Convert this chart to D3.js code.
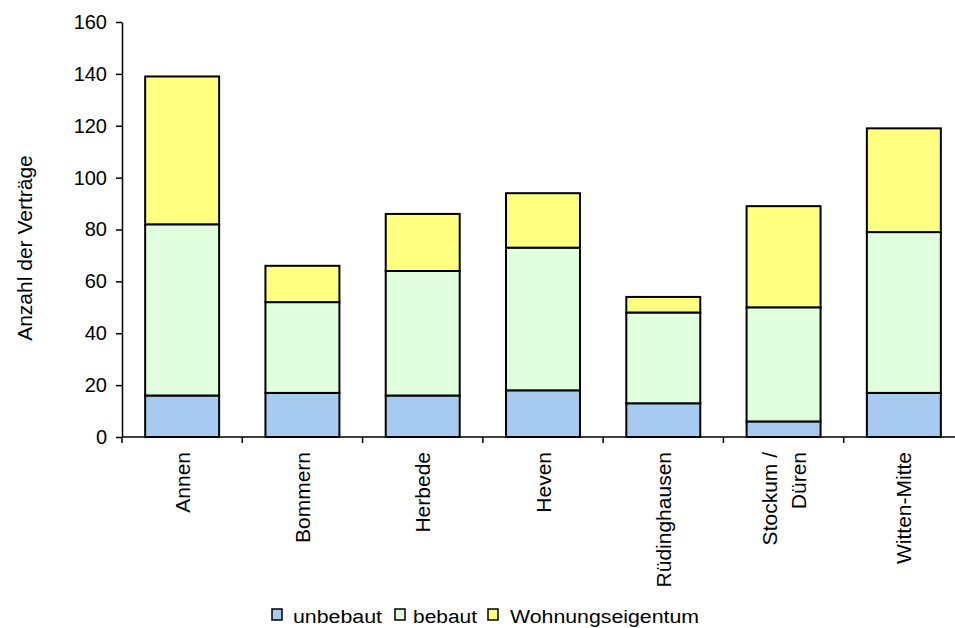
<!DOCTYPE html>
<html>
<head>
<meta charset="utf-8">
<script src="https://cdn.jsdelivr.net/npm/d3@7/dist/d3.min.js"></script>
<style>
  body { margin: 0; background: #fff; }
  svg { display: block; font-family: "Liberation Sans", Arial, sans-serif; }
</style>
</head>
<body>
<svg id="chart" width="955" height="628"></svg>
<script>
// Stadtteile (Kategorien)
const categories = ["Annen", "Bommern", "Herbede", "Heven", "Rüdinghausen", "Stockum /\nDüren", "Witten-Mitte"];
// Werte je Serie
const unbebaut = [16, 17, 16, 18, 13, 6, 17];
const bebaut = [66, 35, 48, 55, 35, 44, 62];
const wohnungseigentum = [57, 14, 22, 21, 6, 39, 40];
const seriesNames = ["unbebaut", "bebaut", "Wohnungseigentum"];
const seriesColors = ["#a6caf0", "#e0ffdc", "#ffff80"];
const yTicks = [0, 20, 40, 60, 80, 100, 120, 140, 160];

const svg = d3.select("#chart");

// Tabelle für d3.stack bauen
const table = categories.map((c, i) => ({
  cat: c,
  unbebaut: unbebaut[i],
  bebaut: bebaut[i],
  Wohnungseigentum: wohnungseigentum[i]
}));
const stacked = d3.stack().keys(seriesNames)(table);

const x = d3.scaleBand()
  .domain(categories)
  .range([122, 964])
  .paddingInner(0.385)
  .paddingOuter(0.1925);

const y = d3.scaleLinear().domain([0, 160]).range([437, 22]);

// Balken
svg.append("g")
  .selectAll("g")
  .data(stacked)
  .join("g")
  .attr("fill", (d, i) => seriesColors[i])
  .selectAll("rect")
  .data(d => d)
  .join("rect")
  .attr("x", d => x(d.data.cat))
  .attr("width", x.bandwidth())
  .attr("y", d => y(d[1]))
  .attr("height", d => y(d[0]) - y(d[1]))
  .attr("stroke", "#000")
  .attr("stroke-width", 2);

// y-Achse
const yAxis = svg.append("g")
  .attr("transform", "translate(122,0)")
  .call(d3.axisLeft(y).tickValues(yTicks).tickSize(6).tickPadding(9).tickSizeOuter(0));
yAxis.select(".domain").attr("stroke", "#000").attr("stroke-width", 1.5);
yAxis.selectAll(".tick line").attr("stroke", "#000").attr("stroke-width", 1.5);
yAxis.selectAll(".tick text")
  .attr("font-size", 20)
  .attr("font-family", "Liberation Sans, Arial, sans-serif")
  .attr("fill", "#000");

// x-Achse (Striche zwischen den Kategorien)
const step = x.step();
const xAxis = svg.append("g");
xAxis.append("line")
  .attr("x1", x.range()[0]).attr("x2", x.range()[1])
  .attr("y1", y(0)).attr("y2", y(0))
  .attr("stroke", "#000").attr("stroke-width", 1.5);
const tickPos = categories.map(c => x(c) + x.bandwidth() / 2 - step / 2);
tickPos.push(x.range()[1]);
xAxis.selectAll(".xt")
  .data(tickPos)
  .join("line")
  .attr("x1", d => d).attr("x2", d => d)
  .attr("y1", y(0)).attr("y2", y(0) + 6)
  .attr("stroke", "#000").attr("stroke-width", 1.5);

// Kategorie-Beschriftungen, um 90° gedreht
const lineGap = 29;
const labels = xAxis.selectAll(".xl")
  .data(categories)
  .join("text")
  .attr("transform", d => `translate(${x(d) + x.bandwidth() / 2},452) rotate(-90)`)
  .attr("text-anchor", "end")
  .attr("font-size", 21)
  .attr("fill", "#000");
labels.each(function (d) {
  const parts = d.split("\n");
  const t = d3.select(this);
  parts.forEach((p, k) => {
    const off = (k - (parts.length - 1) / 2) * lineGap + 7.5;
    t.append("tspan").attr("x", 0).attr("y", off).text(p);
  });
});

// y-Achsentitel
svg.append("text")
  .attr("transform", "translate(32,248) rotate(-90)")
  .attr("text-anchor", "middle")
  .attr("font-size", 21)
  .attr("fill", "#000")
  .text("Anzahl der Verträge");

// Legende
const legendBox = [272, 395, 488];
const legendText = [293, 413, 510];
const legendLen = [89, 64, 189];
const legend = svg.append("g");
legend.selectAll("rect")
  .data(seriesNames)
  .join("rect")
  .attr("x", (d, i) => legendBox[i]).attr("y", 609)
  .attr("width", 10).attr("height", 11)
  .attr("fill", (d, i) => seriesColors[i])
  .attr("stroke", "#000").attr("stroke-width", 1.5);
legend.selectAll("text")
  .data(seriesNames)
  .join("text")
  .attr("x", (d, i) => legendText[i]).attr("y", 623)
  .attr("font-size", 18)
  .attr("textLength", (d, i) => legendLen[i])
  .attr("lengthAdjust", "spacingAndGlyphs")
  .attr("fill", "#000")
  .text(d => d);
</script>
</body>
</html>
